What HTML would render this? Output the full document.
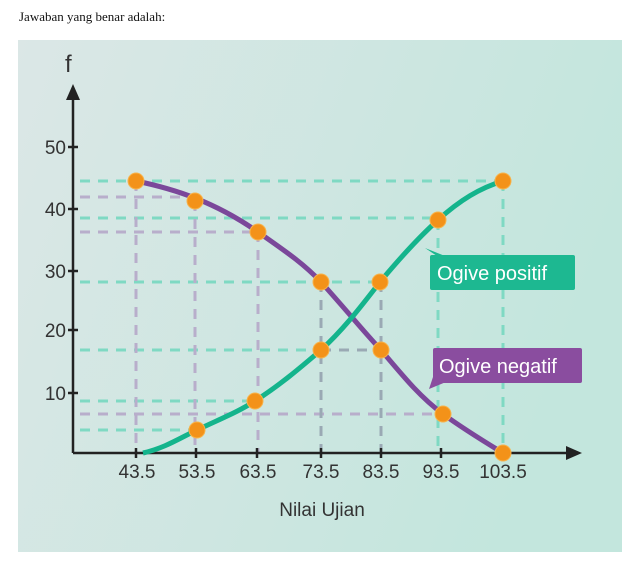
<!DOCTYPE html>
<html><head><style>
body{margin:0;width:644px;height:580px;background:#fff;overflow:hidden}
.t{position:absolute;left:19px;top:9px;font:13px "Liberation Serif",serif;color:#111}
</style></head><body>
<div class="t">Jawaban yang benar adalah:</div>
<svg style="position:absolute;left:0;top:0" width="644" height="580">
<defs><linearGradient id="g" x1="0" y1="0" x2="1" y2="0.3"><stop offset="0" stop-color="#dbe7e6"/><stop offset="1" stop-color="#c3e6dd"/></linearGradient></defs>
<rect x="18" y="40" width="604" height="512" fill="url(#g)"/>
<g stroke-width="3" stroke-dasharray="10,8" fill="none">
<g stroke="#7fd9c3">
<path d="M80 181H503M80 218H438M80 282H380M80 350H321M80 401H255M80 430H197"/>
<path d="M503 181V453M438 220V453"/>
</g>
<g stroke="#b8aecb">
<path d="M80 197H195M80 232H258M80 414H443"/>
<path d="M136 181V453M195 201V453M258 232V453"/>
</g>
<g stroke="#9aa9b4">
<path d="M321 282V453M381 282V453M321 350H381"/>
</g>
</g>
<g stroke="#222" stroke-width="2.5" fill="none">
<path d="M73 453V92M73 453H570"/>
<path d="M68 147h10M68 209h10M68 271h10M68 330h10M68 393h10"/>
<path d="M136 448v10M196 448v10M257 448v10M321 448v10M381 448v10M441 448v10M503 448v10"/>
</g>
<path d="M73 84L66 100H80Z" fill="#222"/>
<path d="M582 453L566 446V460Z" fill="#222"/>
<path d="M136 181C175 189 215 202 258 232C285 251 303 263 321 282C348 312 364 332 381 350C403 376 420 397 443 414C465 430 485 442 503 453" stroke="#7b479a" stroke-width="5" fill="none"/>
<path d="M143 453C165 448 180 438 197 430C220 419 238 412 255 401C280 385 300 368 321 350C345 328 362 305 380 282C400 258 418 238 438 220C460 200 480 188 503 181" stroke="#14b48c" stroke-width="5" fill="none"/>
<g fill="#f39219" stroke="#f7b24a" stroke-width="1">
<circle cx="136" cy="181" r="8"/><circle cx="195" cy="201" r="8"/><circle cx="258" cy="232" r="8"/><circle cx="321" cy="282" r="8"/><circle cx="381" cy="350" r="8"/><circle cx="443" cy="414" r="8"/><circle cx="503" cy="453" r="8"/>
<circle cx="197" cy="430" r="8"/><circle cx="255" cy="401" r="8"/><circle cx="321" cy="350" r="8"/><circle cx="380" cy="282" r="8"/><circle cx="438" cy="220" r="8"/><circle cx="503" cy="181" r="8"/>
</g>
<rect x="430" y="255" width="145" height="35" rx="2" fill="#1db891"/>
<path d="M425 248L437 256L445 256Z" fill="#1db891"/>
<rect x="433" y="348" width="149" height="35" rx="2" fill="#8a4d9f"/>
<path d="M429 389L434 374L446 382Z" fill="#8a4d9f"/>
<g font-family="Liberation Sans,sans-serif" fill="#fff" font-size="20">
<text x="437" y="280">Ogive positif</text>
<text x="439" y="373">Ogive negatif</text>
</g>
<g font-family="Liberation Sans,sans-serif" fill="#333" font-size="19">
<text x="65" y="72" font-size="24">f</text>
<g text-anchor="end"><text x="66" y="154">50</text><text x="66" y="216">40</text><text x="66" y="278">30</text><text x="66" y="337">20</text><text x="66" y="400">10</text></g>
<g text-anchor="middle"><text x="137" y="478">43.5</text><text x="197" y="478">53.5</text><text x="258" y="478">63.5</text><text x="321" y="478">73.5</text><text x="381" y="478">83.5</text><text x="441" y="478">93.5</text><text x="503" y="478">103.5</text>
<text x="322" y="516">Nilai Ujian</text></g>
</g>
</svg>
</body></html>
